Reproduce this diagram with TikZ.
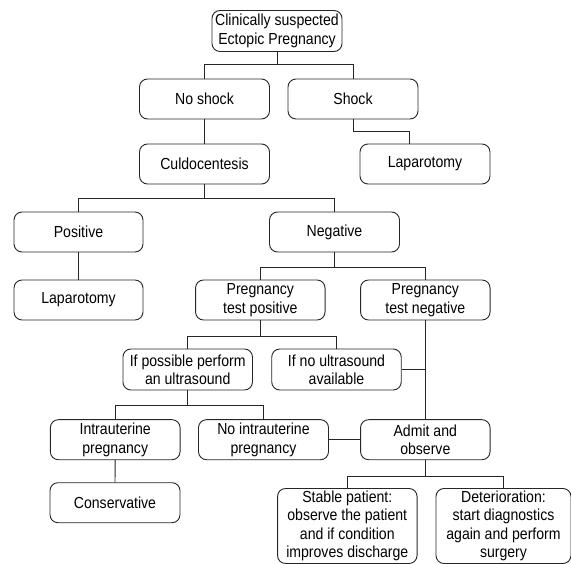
\documentclass[tikz,border=0pt]{standalone}
\usepackage{fontspec}
\setmainfont{Liberation Sans}[FakeStretch=0.88]
\begin{document}
\begin{tikzpicture}[x=1pt,y=-1pt,
  box/.style={draw=black!85, line width=0.9pt, rounded corners=8pt, align=center,
    inner sep=0pt, minimum width=130pt, minimum height=40pt,
    font=\fontsize{16}{18.4}\selectfont},
  conn/.style={draw=black!85, line width=0.9pt}]
\useasboundingbox (0,0) rectangle (571,564);
\node[box,minimum height=41pt] (top) at (277,31) {Clinically suspected\\Ectopic Pregnancy};
\node[box] (noshock) at (204.5,99) {No shock};
\node[box] (shock) at (353,99) {Shock};
\node[box] (culdo) at (204.5,164) {Culdocentesis};
\node[box] (lapR) at (425,164) {Laparotomy};
\node[box,minimum width=129pt] (positive) at (78.5,232) {Positive};
\node[box] (negative) at (334.5,232) {Negative};
\node[box,minimum width=129pt] (lapL) at (78.5,300) {Laparotomy};
\node[box,minimum width=129.5pt] (ptp) at (260.3,300) {Pregnancy\\test positive};
\node[box,minimum width=129.5pt] (ptn) at (425.3,300) {Pregnancy\\test negative};
\node[box,minimum height=41pt,minimum width=129.5pt] (ifposs) at (187.7,369.5) {If possible perform\\an ultrasound};
\node[box,minimum height=41pt,minimum width=129.5pt] (ifno) at (336.5,369.5) {If no ultrasound\\available};
\node[box,minimum width=129.7pt] (intra) at (115.2,439.7) {Intrauterine\\pregnancy};
\node[box] (nointra) at (263.5,439.7) {No intrauterine\\pregnancy};
\node[box,minimum width=129.5pt] (admit) at (425.3,439.7) {Admit and\\observe};
\node[box] (cons) at (115,502.7) {Conservative};
\node[box,minimum width=139.5pt,minimum height=75pt] (stable) at (347.3,526) {Stable patient:\\observe the patient\\and if condition\\improves discharge};
\node[box,minimum width=135pt,minimum height=75pt] (det) at (503.5,526) {Deterioration:\\start diagnostics\\again and perform\\surgery};
% connectors
\draw[conn] (top.south) -- ++(0,13) -| (noshock.north);
\draw[conn] (top.south) -- ++(0,13) -| (shock.north);
\draw[conn] (shock.south) -- ++(0,12) -| ([xshift=-16pt]lapR.north);
\draw[conn] (noshock.south) -- (culdo.north);
\draw[conn] (culdo.south) -- ++(0,14) -| (positive.north);
\draw[conn] (culdo.south) -- ++(0,14) -| (negative.north);
\draw[conn] (positive.south) -- (lapL.north);
\draw[conn] (negative.south) -- ++(0,14.7) -| (ptp.north);
\draw[conn] (negative.south) -- ++(0,14.7) -| (ptn.north);
\draw[conn] (ptp.south) -- ++(0,16) -| (ifposs.north);
\draw[conn] (ptp.south) -- ++(0,16) -| (ifno.north);
\draw[conn] (ptn.south) -- (admit.north);
\draw[conn] (ifno.east) -- (ifno.east -| ptn.south);
\draw[conn] (ifposs.south) -- ++(0,15) -| (intra.north);
\draw[conn] (ifposs.south) -- ++(0,15) -| (nointra.north);
\draw[conn] (intra.south) -- (cons.north);
\draw[conn] (nointra.east) -- (admit.west);
\draw[conn] (admit.south) -- ++(0,16) -| (stable.north);
\draw[conn] (admit.south) -- ++(0,16) -| (det.north);
\end{tikzpicture}
\end{document}
